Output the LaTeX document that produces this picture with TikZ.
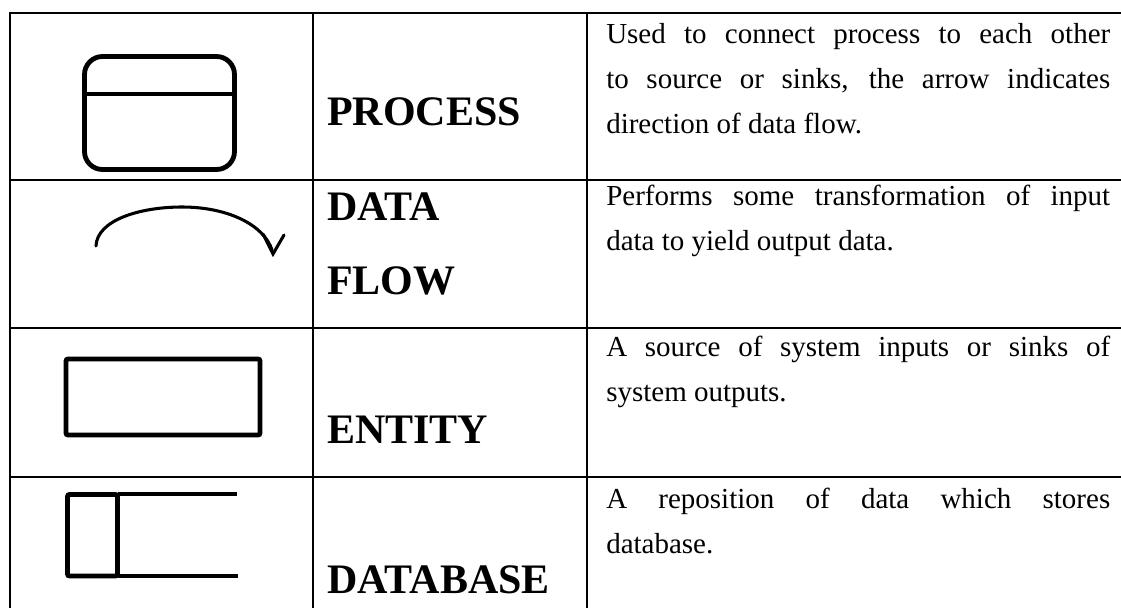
\documentclass[tikz,border=0pt]{standalone}
\usepackage{fontspec}
\setmainfont{Liberation Serif}
\begin{document}
\begin{tikzpicture}[x=0.75pt,y=-0.75pt,
  gridline/.style={line width=1.5pt, line cap=rect},
  body/.style={anchor=base west, inner sep=0pt, font=\fontsize{21.75}{26}\selectfont},
  head/.style={anchor=base west, inner sep=0pt, font=\fontsize{31.5}{38}\selectfont\bfseries},
  symthick/.style={line width=3.6pt},
  symmid/.style={line width=2.8pt},
  symthin/.style={line width=2.3pt}]
\useasboundingbox (0,0) rectangle (1121,607);
\fill[white] (0,0) rectangle (1121,607);

% table grid
\coordinate (tl) at (10,13);
\draw[gridline] (1121,13) -- (10,13) -- (10,607);
\draw[gridline] (313,13) -- (313,607);
\draw[gridline] (587,13) -- (587,607);
\draw[gridline] (10,180) -- (1121,180);
\draw[gridline] (10,328) -- (1121,328);
\draw[gridline] (10,477) -- (1121,477);

% process symbol
\draw[symthick, rounded corners=13.5pt] (84.5,56.5) rectangle (234.5,169.5);
\draw[symmid] (84.5,94) -- (234.5,94);

% data flow symbol
\draw[symthin, line cap=round] (96,246) .. controls (97,220) and (140,207) .. (182,207)
   .. controls (228,207) and (264,225) .. (272,250);
\draw[symthin, line cap=round, line join=miter] (263,234) -- (273,254) -- (284,235);

% entity symbol
\draw[symthick, rounded corners=1.5pt] (66,359) rectangle (260,435);

% database symbol
\draw[symthick, rounded corners=1.5pt] (67.5,494.5) rectangle (117.5,576);
\draw[symmid] (117.5,494) -- (237,494);
\draw[symmid] (117.5,576) -- (238,576);

% headers
\node[head] (hproc) at (327,125) {PROCESS};
\node[head] (hdata) at (327,220) {DATA};
\node[head] (hflow) at (327,294) {FLOW};
\node[head] (hent)  at (327,443) {ENTITY};
\node[head] (hdb)   at (327,593) {DATABASE};

% descriptions
\node[body] (d1a) at (606,43)  {\makebox[378pt][s]{Used to connect process to each other}};
\node[body] (d1b) at (606,88)  {\makebox[378pt][s]{to source or sinks, the arrow indicates}};
\node[body] (d1c) at (606,133) {direction of data flow.};
\node[body] (d2a) at (606,205) {\makebox[378pt][s]{Performs some transformation of input}};
\node[body] (d2b) at (606,250) {data to yield output data.};
\node[body] (d3a) at (606,356) {\makebox[378pt][s]{A source of system inputs or sinks of}};
\node[body] (d3b) at (606,401) {system outputs.};
\node[body] (d4a) at (606,508) {\makebox[378pt][s]{A reposition of data which stores}};
\node[body] (d4b) at (606,553) {database.};
\end{tikzpicture}
\end{document}
